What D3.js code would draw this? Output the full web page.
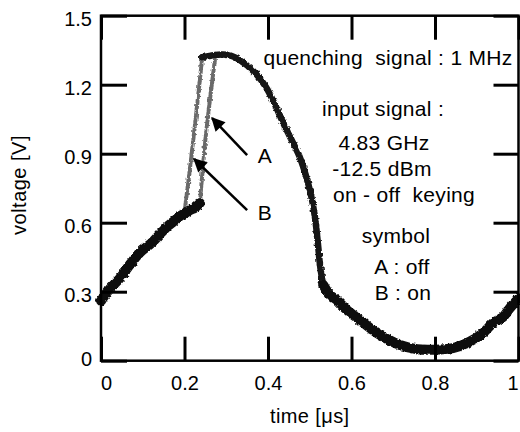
<!DOCTYPE html>
<html>
<head>
<meta charset="utf-8">
<script src="https://cdn.jsdelivr.net/npm/d3@7"></script>
<style>
  body { margin: 0; background: #fff; }
  svg { display: block; font-family: "Liberation Sans", Arial, Helvetica, sans-serif; }
</style>
</head>
<body>
<svg id="chart" width="520" height="432"></svg>
<script>
// common trace, slow rise up to the point where A and B split
const riseT = [0, 0.02, 0.046, 0.07, 0.093, 0.12, 0.141, 0.16, 0.177, 0.19, 0.2, 0.213, 0.225, 0.237];
const riseV = [0.26, 0.31, 0.36, 0.42, 0.47, 0.51, 0.55, 0.585, 0.61, 0.63, 0.64, 0.655, 0.665, 0.685];

// fast edges (grey), B = on, A = off
const edgeBT = [0.201, 0.212, 0.221, 0.232, 0.242];
const edgeBV = [0.66, 0.82, 0.96, 1.14, 1.31];
const edgeAT = [0.237, 0.243, 0.25, 0.262, 0.273];
const edgeAV = [0.69, 0.82, 0.96, 1.15, 1.31];

// top of the pulse, decay and steep fall
const peakT = [0.242, 0.26, 0.28, 0.30, 0.32, 0.345, 0.37, 0.395, 0.415, 0.435, 0.455, 0.475, 0.49, 0.503, 0.512, 0.519, 0.525, 0.532];
const peakV = [1.32, 1.325, 1.33, 1.33, 1.32, 1.29, 1.25, 1.19, 1.12, 1.04, 0.965, 0.89, 0.81, 0.72, 0.63, 0.52, 0.41, 0.33];

// bottom of the cycle and new rise
const tailT = [0.532, 0.549, 0.565, 0.589, 0.62, 0.661, 0.69, 0.716, 0.757, 0.795, 0.843, 0.877, 0.915, 0.939, 0.963, 0.98, 1.0];
const tailV = [0.33, 0.285, 0.264, 0.22, 0.177, 0.12, 0.09, 0.068, 0.05, 0.048, 0.055, 0.077, 0.12, 0.164, 0.19, 0.23, 0.27];

const xTicks = [0, 0.2, 0.4, 0.6, 0.8, 1];
const yTicks = [0, 0.3, 0.6, 0.9, 1.2, 1.5];

const margin = { top: 15.7, right: 1.5, bottom: 71.3, left: 101 };
const W = 520, H = 432;
const width = W - margin.left - margin.right;
const height = H - margin.top - margin.bottom;

const svg = d3.select("#chart");
const g = svg.append("g").attr("transform", `translate(${margin.left},${margin.top})`);

const x = d3.scaleLinear().domain([0, 1]).range([0, width]);
const y = d3.scaleLinear().domain([0, 1.5]).range([height, 0]);

// rough scope-trace look
const defs = svg.append("defs");
const f = defs.append("filter").attr("id", "rough").attr("x", "-10%").attr("y", "-10%").attr("width", "120%").attr("height", "120%");
f.append("feTurbulence").attr("type", "fractalNoise").attr("baseFrequency", 0.35).attr("numOctaves", 2).attr("seed", 3).attr("result", "n");
f.append("feDisplacementMap").attr("in", "SourceGraphic").attr("in2", "n").attr("scale", 3.5).attr("xChannelSelector", "R").attr("yChannelSelector", "G").attr("result", "d");
f.append("feGaussianBlur").attr("in", "d").attr("stdDeviation", 0.6);

const line = d3.line()
  .x((d) => x(d[0]))
  .y((d) => y(d[1]))
  .curve(d3.curveCatmullRom);

const zip = (ts, vs) => ts.map((t, i) => [t, vs[i]]);

const traces = g.append("g").attr("filter", "url(#rough)").attr("fill", "none").attr("stroke-linecap", "round").attr("stroke-linejoin", "round");

traces.append("path").datum(zip(edgeBT, edgeBV)).attr("d", line).attr("stroke", "#6a6a6a").attr("stroke-width", 4).attr("stroke-dasharray", "2.5 1");
traces.append("path").datum(zip(edgeAT, edgeAV)).attr("d", line).attr("stroke", "#6a6a6a").attr("stroke-width", 4).attr("stroke-dasharray", "2.5 1");

traces.append("path").datum(zip(riseT, riseV)).attr("d", line).attr("stroke", "#111").attr("stroke-width", 10);
traces.append("path").datum(zip(peakT, peakV)).attr("d", line).attr("stroke", "#151515").attr("stroke-width", 6.5);
traces.append("path").datum(zip(tailT, tailV)).attr("d", line).attr("stroke", "#111").attr("stroke-width", 10);

// frame and inward ticks
g.append("rect").attr("width", width).attr("height", height).attr("fill", "none").attr("stroke", "#000").attr("stroke-width", 2.5);

const styleAxis = (sel) => {
  sel.select(".domain").remove();
  sel.selectAll(".tick line").attr("stroke", "#000").attr("stroke-width", 3);
  sel.selectAll("text").attr("fill", "#000").style("font-size", "20px");
};

const xAx = g.append("g").attr("transform", `translate(0,${height})`)
  .call(d3.axisBottom(x).tickValues(xTicks).tickSize(-24).tickPadding(15).tickFormat(d3.format("")))
  .call(styleAxis);
xAx.selectAll("text").filter((d) => d === 0).attr("dx", "5");
xAx.selectAll("text").filter((d) => d === 1).attr("dx", "-6");

g.append("g")
  .call(d3.axisTop(x).tickValues(xTicks).tickSize(-24).tickFormat(""))
  .call(styleAxis);

const yAx = g.append("g")
  .call(d3.axisLeft(y).tickValues(yTicks).tickSize(-26).tickPadding(9).tickFormat(d3.format("")))
  .call(styleAxis);
yAx.selectAll("text").attr("dy", "0.47em");
yAx.selectAll("text").filter((d) => d === 0).attr("dy", "0.22em");

g.append("g").attr("transform", `translate(${width},0)`)
  .call(d3.axisRight(y).tickValues(yTicks).tickSize(-25).tickFormat(""))
  .call(styleAxis);

// axis titles
g.append("text")
  .attr("x", width / 2)
  .attr("y", height + 62)
  .attr("text-anchor", "middle")
  .style("font-size", "20px")
  .style("letter-spacing", "0.4px")
  .text("time [μs]");

g.append("text")
  .attr("transform", "rotate(-90)")
  .attr("x", -(185 - margin.top))
  .attr("y", -75)
  .attr("text-anchor", "middle")
  .style("font-size", "20px")
  .style("letter-spacing", "0.5px")
  .text("voltage [V]");

// annotation text block
const notes = [
  { text: "quenching  signal : 1 MHz", cx: 388, by: 65 },
  { text: "input signal :", cx: 383, by: 116 },
  { text: "4.83 GHz", cx: 384, by: 150 },
  { text: "-12.5 dBm", cx: 382, by: 176 },
  { text: "on - off  keying", cx: 404, by: 202 },
  { text: "symbol", cx: 396, by: 243 },
  { text: "A : off", cx: 402, by: 274 },
  { text: "B : on", cx: 403, by: 300 },
  { text: "A", cx: 265, by: 163 },
  { text: "B", cx: 265, by: 220 }
];
svg.append("g")
  .selectAll("text")
  .data(notes)
  .join("text")
  .attr("x", (d) => d.cx)
  .attr("y", (d) => d.by)
  .attr("text-anchor", "middle")
  .style("font-size", "21px")
  .style("letter-spacing", "0.3px")
  .style("white-space", "pre")
  .attr("xml:space", "preserve")
  .text((d) => d.text);

// arrows (data units: tail -> tip)
const arrows = [
  { t0: 0.350, v0: 0.894, t1: 0.266, v1: 1.055 },
  { t0: 0.350, v0: 0.655, t1: 0.223, v1: 0.877 }
];
defs.append("marker")
  .attr("id", "head")
  .attr("viewBox", "0 0 10 10")
  .attr("refX", 9)
  .attr("refY", 5)
  .attr("markerWidth", 6)
  .attr("markerHeight", 5.5)
  .attr("markerUnits", "strokeWidth")
  .attr("orient", "auto")
  .append("path")
  .attr("d", "M0,0L10,5L0,10Z")
  .attr("fill", "#000");

g.append("g")
  .selectAll("line")
  .data(arrows)
  .join("line")
  .attr("x1", (d) => x(d.t0))
  .attr("y1", (d) => y(d.v0))
  .attr("x2", (d) => x(d.t1))
  .attr("y2", (d) => y(d.v1))
  .attr("stroke", "#000")
  .attr("stroke-width", 2.5)
  .attr("marker-end", "url(#head)");
</script>
</body>
</html>
